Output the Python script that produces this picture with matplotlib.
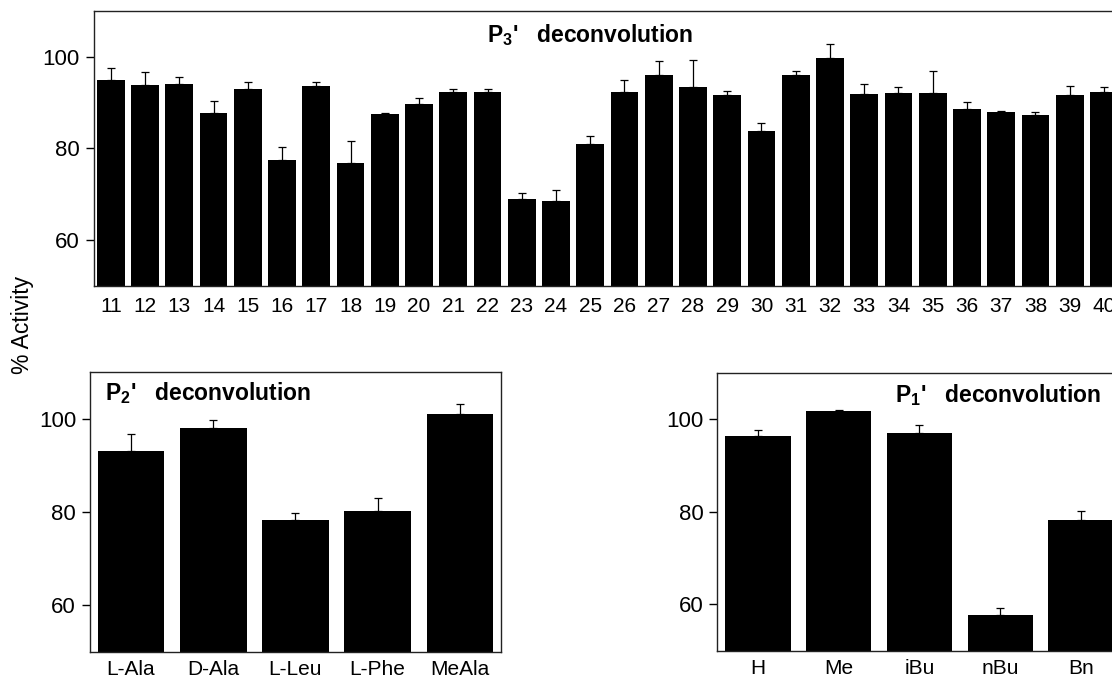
import numpy as np
import matplotlib
matplotlib.use("Agg")
import matplotlib.pyplot as plt

plt.rcParams["font.family"] = ["Liberation Sans", "DejaVu Sans"]
plt.rcParams["mathtext.fontset"] = "custom"
plt.rcParams["mathtext.rm"] = "Liberation Sans"
plt.rcParams["mathtext.bf"] = "Liberation Sans:bold"

# --- DATA ---
# P3' deconvolution (library members 11-40)
p3_labels = [str(i) for i in range(11, 41)]
p3_values = [95.0, 93.8, 94.0, 87.7, 92.9, 77.4, 93.6, 76.8, 87.5, 89.6,
             92.3, 92.3, 68.9, 68.6, 80.9, 92.3, 96.1, 93.4, 91.7, 83.7,
             96.1, 99.8, 91.8, 92.1, 92.2, 88.5, 88.0, 87.3, 91.7, 92.3]
p3_errors = [2.6, 2.9, 1.6, 2.7, 1.6, 2.9, 0.8, 4.7, 0.2, 1.4,
             0.7, 0.7, 1.4, 2.3, 1.7, 2.6, 3.0, 5.8, 0.8, 1.9,
             0.7, 3.1, 2.2, 1.4, 4.8, 1.6, 0.2, 0.7, 2.0, 1.1]

# P2' deconvolution
p2_labels = ["L-Ala", "D-Ala", "L-Leu", "L-Phe", "MeAla"]
p2_values = [93.1, 98.1, 78.3, 80.3, 101.1]
p2_errors = [3.7, 1.7, 1.4, 2.6, 2.0]

# P1' deconvolution
p1_labels = ["H", "Me", "iBu", "nBu", "Bn"]
p1_values = [96.4, 101.7, 97.0, 57.8, 78.3]
p1_errors = [1.3, 0.3, 1.7, 1.5, 1.8]

W, H = 1112, 679
fig = plt.figure(figsize=(W / 100, H / 100), dpi=100)


def draw_panel(ax, labels, values, errors, title, tx, ty, xpad=8):
    x = np.arange(len(values))
    ax.bar(x, values, width=0.81, color="black", edgecolor="none")
    ax.errorbar(x, values, yerr=[np.zeros(len(errors)), errors], fmt="none",
                ecolor="black", elinewidth=0.9, capsize=3.2, capthick=0.9)
    ax.set_xlim(-0.5, len(values) - 0.5)
    ax.set_ylim(50, 110)
    ax.set_yticks([60, 80, 100])
    ax.set_xticks(x)
    ax.set_xticklabels(labels)
    ax.tick_params(axis="x", length=0, pad=xpad, labelsize=15)
    ax.tick_params(axis="y", length=6, width=1, pad=4, labelsize=16)
    for s in ax.spines.values():
        s.set_linewidth(1.0)
        s.set_color("#222222")
    ax.text(tx, ty, title, transform=ax.transAxes, ha="left", va="center",
            fontsize=16.5, fontweight="bold")


ax_top = fig.add_axes([0.0843, 0.5792, 0.9238, 0.4046])
draw_panel(ax_top, p3_labels, p3_values, p3_errors,
           r"$\mathbf{P_{3}}$'   deconvolution", 0.383, 0.913)

ax_p2 = fig.add_axes([0.0809, 0.0402, 0.3696, 0.4115])
draw_panel(ax_p2, p2_labels, p2_values, p2_errors,
           r"$\mathbf{P_{2}}$'   deconvolution", 0.0355, 0.925, xpad=6)

ax_p1 = fig.add_axes([0.6451, 0.0417, 0.3635, 0.4094])
draw_panel(ax_p1, p1_labels, p1_values, p1_errors,
           r"$\mathbf{P_{1}}$'   deconvolution", 0.44, 0.92, xpad=6)

fig.text(0.0198, 0.5214, "% Activity", rotation=90, ha="center", va="center",
         fontsize=16.5)

fig.savefig("out.png", dpi=100)
